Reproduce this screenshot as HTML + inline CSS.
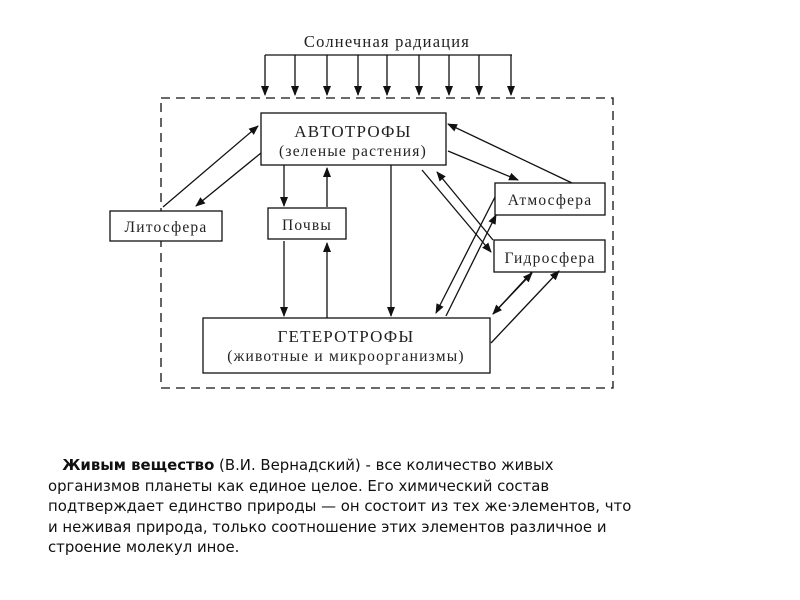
<!DOCTYPE html>
<html><head><meta charset="utf-8"><style>
body{margin:0;background:#fff;width:800px;height:600px;overflow:hidden;position:relative}
svg{position:absolute;left:0;top:0}
.p{position:absolute;left:48px;top:455px;font-family:"DejaVu Sans",sans-serif;font-size:14.9px;line-height:20.5px;color:#111;white-space:pre}
</style></head><body>
<svg width="800" height="600" font-family="Liberation Serif, serif" fill="#222">
<defs><marker id="a" markerWidth="10" markerHeight="8" refX="9" refY="4" orient="auto" markerUnits="userSpaceOnUse"><path d="M0,0 L10,4 L0,8 Z" fill="#111"/></marker></defs>
<g stroke="#111" stroke-width="1.3" fill="none">
<text x="387" y="47" text-anchor="middle" font-size="16.5" fill="#222" stroke="none" letter-spacing="1.2">Солнечная радиация</text>
<path d="M265,55 H512"/>
<g marker-end="url(#a)">
<line x1="265" y1="55" x2="265" y2="95"/><line x1="295" y1="55" x2="295" y2="95"/><line x1="327" y1="55" x2="327" y2="95"/>
<line x1="358" y1="55" x2="358" y2="95"/><line x1="387" y1="55" x2="387" y2="95"/><line x1="419" y1="55" x2="419" y2="95"/>
<line x1="449" y1="55" x2="449" y2="95"/><line x1="479" y1="55" x2="479" y2="95"/><line x1="511" y1="55" x2="511" y2="95"/>
</g>
<rect x="161" y="98" width="452" height="290" stroke-dasharray="9,6"/>
<rect x="261" y="113" width="185" height="52" fill="#fff"/>
<rect x="110" y="211" width="112" height="30" fill="#fff"/>
<rect x="268" y="208" width="78" height="31" fill="#fff"/>
<rect x="495" y="183" width="110" height="32" fill="#fff"/>
<rect x="494" y="240" width="111" height="32" fill="#fff"/>
<rect x="203" y="318" width="287" height="55" fill="#fff"/>
<g marker-end="url(#a)">
<line x1="163" y1="207" x2="258" y2="126"/>
<line x1="261" y1="153" x2="196" y2="206"/>
<line x1="284" y1="165" x2="284" y2="206"/>
<line x1="327" y1="207" x2="327" y2="168"/>
<line x1="284" y1="241" x2="284" y2="316"/>
<line x1="327" y1="318" x2="327" y2="243"/>
<line x1="391" y1="165" x2="391" y2="316"/>
<line x1="572" y1="183" x2="448" y2="124"/>
<line x1="448" y1="151" x2="518" y2="180"/>
<line x1="422" y1="170" x2="491" y2="252"/>
<line x1="493" y1="240" x2="437" y2="172"/>
<line x1="495" y1="197" x2="436" y2="313"/>
<line x1="446" y1="316" x2="496" y2="215"/>
<line x1="532" y1="272" x2="493" y2="314"/>
<line x1="493" y1="314" x2="532" y2="273"/>
<line x1="491" y1="343" x2="559" y2="271"/>
</g>
</g>
<g font-size="15.5" text-anchor="middle" fill="#222" letter-spacing="1.2">
<text x="353" y="137" font-size="17">АВТОТРОФЫ</text>
<text x="353" y="156">(зеленые растения)</text>
<text x="166" y="232">Литосфера</text>
<text x="307" y="230">Почвы</text>
<text x="550" y="205">Атмосфера</text>
<text x="550" y="263">Гидросфера</text>
<text x="346" y="342" font-size="17">ГЕТЕРОТРОФЫ</text>
<text x="346" y="361">(животные и микроорганизмы)</text>
</g>
</svg>
<div class="p">   <b>Живым вещество</b> (В.И. Вернадский) - все количество живых
организмов планеты как единое целое. Его химический состав
подтверждает единство природы — он состоит из тех же·элементов, что
и неживая природа, только соотношение этих элементов различное и
строение молекул иное.</div>
</body></html>
